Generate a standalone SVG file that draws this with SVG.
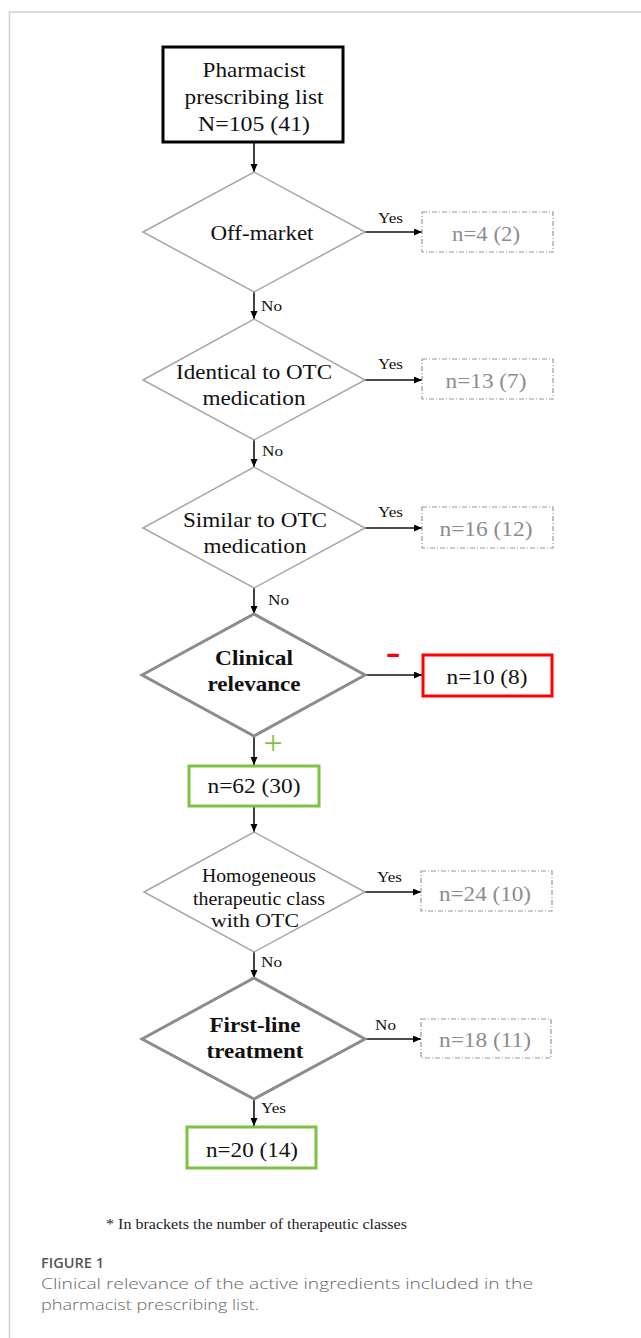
<svg xmlns="http://www.w3.org/2000/svg" width="641" height="1338" viewBox="0 0 641 1338">
<defs>
<marker id="ah" markerUnits="userSpaceOnUse" markerWidth="9" markerHeight="8" refX="8" refY="3.5" orient="auto">
<path d="M0,0 L8,3.5 L0,7 z" fill="#000"/>
</marker>
<style>
.t{font-family:"Liberation Serif","Times New Roman",serif;font-size:21.5px;fill:#111;text-anchor:middle}
.b{font-weight:bold}
.h{font-size:18.5px}
.s{font-family:"Liberation Serif","Times New Roman",serif;font-size:15.5px;fill:#111}
.g{fill:#8c8c8c}
.dm{fill:#fff;stroke:#a6a6a6;stroke-width:1.5}
.dmb{fill:#fff;stroke:#8c8c8c;stroke-width:3}
.dash{fill:#fff;stroke:#9a9a9a;stroke-width:1.2;stroke-dasharray:5,2,1,2}
.ar{stroke:#111;stroke-width:1.6;fill:none;marker-end:url(#ah)}
.cap{font-family:"Open Sans",sans-serif;font-weight:300;font-size:15px;fill:#666}
</style>
</defs>
<rect width="641" height="1338" fill="#fff"/>
<path d="M641,12 H9.5 V1338" fill="none" stroke="#d0d0d0" stroke-width="1.5"/>

<g id="connectors">
<line class="ar" x1="254" y1="142" x2="254" y2="172"/>
<line class="ar" x1="365" y1="232" x2="422" y2="232"/>
<line class="ar" x1="254" y1="292" x2="254" y2="319"/>
<line class="ar" x1="365" y1="380" x2="422" y2="380"/>
<line class="ar" x1="254" y1="440" x2="254" y2="467"/>
<line class="ar" x1="365" y1="528" x2="422" y2="528"/>
<line class="ar" x1="254" y1="588" x2="254" y2="614"/>
<line class="ar" x1="365" y1="675" x2="422" y2="675"/>
<line class="ar" x1="254" y1="736" x2="254" y2="765"/>
<line class="ar" x1="254" y1="806" x2="254" y2="832"/>
<line class="ar" x1="365" y1="892" x2="421" y2="892"/>
<line class="ar" x1="254" y1="952" x2="254" y2="978"/>
<line class="ar" x1="365" y1="1039" x2="421" y2="1039"/>
<line class="ar" x1="254" y1="1099" x2="254" y2="1126"/>
<text class="s" x="378" y="223" textLength="25" lengthAdjust="spacingAndGlyphs">Yes</text>
<text class="s" x="261" y="311" textLength="21" lengthAdjust="spacingAndGlyphs">No</text>
<text class="s" x="378" y="369" textLength="25" lengthAdjust="spacingAndGlyphs">Yes</text>
<text class="s" x="262" y="456" textLength="21" lengthAdjust="spacingAndGlyphs">No</text>
<text class="s" x="378" y="517" textLength="25" lengthAdjust="spacingAndGlyphs">Yes</text>
<text class="s" x="268" y="605" textLength="21" lengthAdjust="spacingAndGlyphs">No</text>
<text x="393" y="666" font-family="Liberation Serif, serif" font-size="44" fill="#ff0000" text-anchor="middle">-</text>
<text x="273" y="754" font-family="Liberation Serif, serif" font-size="34" fill="#7dc242" text-anchor="middle">+</text>
<text class="s" x="377" y="882" textLength="25" lengthAdjust="spacingAndGlyphs">Yes</text>
<text class="s" x="261" y="967" textLength="21" lengthAdjust="spacingAndGlyphs">No</text>
<text class="s" x="375" y="1030" textLength="21" lengthAdjust="spacingAndGlyphs">No</text>
<text class="s" x="261" y="1113" textLength="25" lengthAdjust="spacingAndGlyphs">Yes</text>
</g>

<g id="start">
<rect x="163" y="47" width="180" height="95" fill="#fff" stroke="#000" stroke-width="3"/>
<text class="t" x="254" y="77" textLength="103" lengthAdjust="spacingAndGlyphs">Pharmacist</text>
<text class="t" x="254" y="104" textLength="139" lengthAdjust="spacingAndGlyphs">prescribing list</text>
<text class="t" x="254" y="131" textLength="112" lengthAdjust="spacingAndGlyphs">N=105 (41)</text>
</g>

<g id="offmarket">
<polygon class="dm" points="143,232 254,172 365,232 254,292"/>
<text class="t" x="262" y="240" textLength="103" lengthAdjust="spacingAndGlyphs">Off-market</text>
</g>
<g id="offmarket-yes">
<rect class="dash" x="422" y="212" width="131" height="40"/>
<text class="t g" x="486" y="241" textLength="68" lengthAdjust="spacingAndGlyphs">n=4 (2)</text>
</g>

<g id="identical">
<polygon class="dm" points="143,380 254,319 365,380 254,440"/>
<text class="t" x="254" y="379" textLength="156" lengthAdjust="spacingAndGlyphs">Identical to OTC</text>
<text class="t" x="254" y="405" textLength="103" lengthAdjust="spacingAndGlyphs">medication</text>
</g>
<g id="identical-yes">
<rect class="dash" x="422" y="359" width="131" height="40"/>
<text class="t g" x="486" y="388" textLength="81" lengthAdjust="spacingAndGlyphs">n=13 (7)</text>
</g>

<g id="similar">
<polygon class="dm" points="143,528 254,467 365,528 254,588"/>
<text class="t" x="255" y="527" textLength="144" lengthAdjust="spacingAndGlyphs">Similar to OTC</text>
<text class="t" x="255" y="553" textLength="103" lengthAdjust="spacingAndGlyphs">medication</text>
</g>
<g id="similar-yes">
<rect class="dash" x="422" y="507" width="131" height="41"/>
<text class="t g" x="486" y="536" textLength="93" lengthAdjust="spacingAndGlyphs">n=16 (12)</text>
</g>

<g id="clinical">
<polygon class="dmb" points="142,675 254,614 365,675 254,736"/>
<text class="t b" x="254" y="665" textLength="78" lengthAdjust="spacingAndGlyphs">Clinical</text>
<text class="t b" x="254" y="691" textLength="93" lengthAdjust="spacingAndGlyphs">relevance</text>
</g>
<g id="clinical-minus">
<rect x="423" y="655" width="129" height="41" fill="#fff" stroke="#ff0000" stroke-width="3"/>
<text class="t" x="487" y="684" textLength="81" lengthAdjust="spacingAndGlyphs">n=10 (8)</text>
</g>
<g id="clinical-plus">
<rect x="189" y="766" width="130" height="40" fill="#fff" stroke="#7dc242" stroke-width="3"/>
<text class="t" x="254" y="793" textLength="93" lengthAdjust="spacingAndGlyphs">n=62 (30)</text>
</g>

<g id="homogeneous">
<polygon class="dm" points="144,892 254,832 365,892 254,952"/>
<text class="t h" x="259" y="882" textLength="114" lengthAdjust="spacingAndGlyphs">Homogeneous</text>
<text class="t h" x="259" y="904.5" textLength="132" lengthAdjust="spacingAndGlyphs">therapeutic class</text>
<text class="t h" x="255" y="927" textLength="88" lengthAdjust="spacingAndGlyphs">with OTC</text>
</g>
<g id="homogeneous-yes">
<rect class="dash" x="421" y="871" width="131" height="40"/>
<text class="t g" x="485" y="901" textLength="92" lengthAdjust="spacingAndGlyphs">n=24 (10)</text>
</g>

<g id="firstline">
<polygon class="dmb" points="142,1039 254,978 365,1039 254,1099"/>
<text class="t b" x="255" y="1032" textLength="91" lengthAdjust="spacingAndGlyphs">First-line</text>
<text class="t b" x="255" y="1058" textLength="97" lengthAdjust="spacingAndGlyphs">treatment</text>
</g>
<g id="firstline-no">
<rect class="dash" x="421" y="1019" width="130" height="39"/>
<text class="t g" x="485" y="1047" textLength="92" lengthAdjust="spacingAndGlyphs">n=18 (11)</text>
</g>
<g id="firstline-yes">
<rect x="187" y="1127" width="129" height="41" fill="#fff" stroke="#7dc242" stroke-width="3"/>
<text class="t" x="252" y="1157" textLength="92" lengthAdjust="spacingAndGlyphs">n=20 (14)</text>
</g>

<text x="106" y="1229" font-family="Liberation Serif, serif" font-size="15" fill="#222" textLength="301" lengthAdjust="spacingAndGlyphs">* In brackets the number of therapeutic classes</text>
<text x="41" y="1268" font-family="Open Sans, sans-serif" font-weight="600" font-size="13.5" fill="#555" textLength="63" lengthAdjust="spacingAndGlyphs">FIGURE 1</text>
<text class="cap" x="41" y="1289" textLength="492" lengthAdjust="spacingAndGlyphs">Clinical relevance of the active ingredients included in the</text>
<text class="cap" x="41" y="1310" textLength="218" lengthAdjust="spacingAndGlyphs">pharmacist prescribing list.</text>
</svg>
